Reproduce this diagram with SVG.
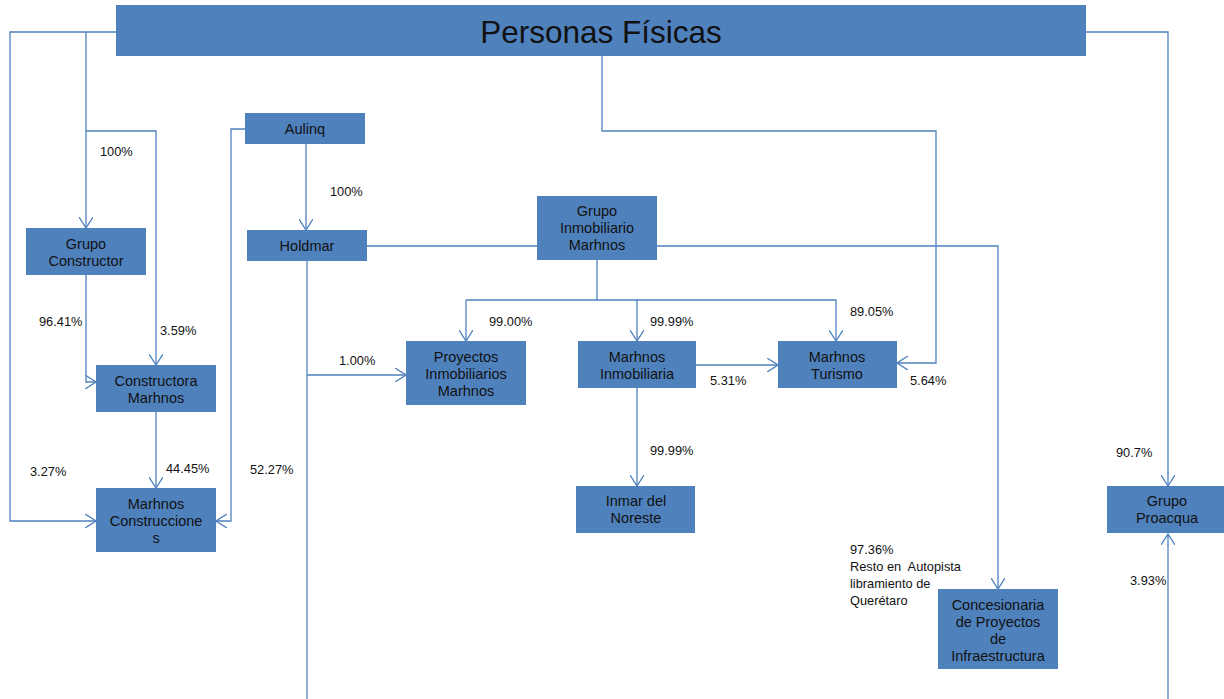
<svg xmlns="http://www.w3.org/2000/svg" width="1224" height="699" viewBox="0 0 1224 699">
<style>
.node{fill:#4F81BD;}
.nt{font-family:"Liberation Sans",Arial,sans-serif;font-size:14.5px;fill:#111;text-anchor:middle;}
.lbl{font-family:"Liberation Sans",Arial,sans-serif;font-size:12.8px;fill:#111;}
.c{fill:none;stroke:#4F81BD;stroke-width:1.3;}
.a{marker-end:url(#arr);}
</style>
<defs>
<marker id="arr" viewBox="0 0 12 14" refX="11" refY="7" markerWidth="12" markerHeight="14" markerUnits="userSpaceOnUse" orient="auto">
<path d="M0,0 L11,7 L0,14" fill="none" stroke="#4F81BD" stroke-width="1.3"/>
</marker>
</defs>
<rect width="1224" height="699" fill="#fff"/>
<g id="connectors">
<path class="c a" d="M116,32 H10 V521 H96"/>
<path class="c a" d="M86,32 V228"/>
<path class="c a" d="M86,131 H156 V365"/>
<path class="c a" d="M86,275 V382 H96"/>
<path class="c a" d="M156,412 V488"/>
<path class="c a" d="M245,129 H231 V521 H216"/>
<path class="c a" d="M306,144 V230"/>
<path class="c" d="M307,261 V699"/>
<path class="c a" d="M307,375 H406"/>
<path class="c a" d="M367,246 H998 V589"/>
<path class="c" d="M597,260 V300"/>
<path class="c a" d="M466,300 V341"/>
<path class="c a" d="M466,300 H637 V341"/>
<path class="c a" d="M637,300 H836 V341"/>
<path class="c a" d="M696,365 H778"/>
<path class="c a" d="M637,388 V486"/>
<path class="c a" d="M602,56 V131 H936 V363 H897"/>
<path class="c a" d="M1086,32 H1168 V486"/>
<path class="c a" d="M1168,699 V534"/>
</g>
<g id="personas">
<rect class="node" x="116" y="5" width="970" height="51"/>
<text x="601" y="43" font-family="Liberation Sans, Arial, sans-serif" font-size="31.5" fill="#111" text-anchor="middle">Personas Físicas</text>
</g>
<g id="aulinq">
<rect class="node" x="245" y="113" width="120" height="31"/>
<text class="nt" x="305" y="134">Aulinq</text>
</g>
<g id="holdmar">
<rect class="node" x="247" y="230" width="120" height="31"/>
<text class="nt" x="307" y="251">Holdmar</text>
</g>
<g id="grupo-inmobiliario">
<rect class="node" x="537" y="196" width="120" height="64"/>
<text class="nt" x="597" y="216">Grupo</text>
<text class="nt" x="597" y="233">Inmobiliario</text>
<text class="nt" x="597" y="250">Marhnos</text>
</g>
<g id="grupo-constructor">
<rect class="node" x="26" y="228" width="120" height="47"/>
<text class="nt" x="86" y="249">Grupo</text>
<text class="nt" x="86" y="266">Constructor</text>
</g>
<g id="constructora">
<rect class="node" x="96" y="365" width="120" height="47"/>
<text class="nt" x="156" y="386">Constructora</text>
<text class="nt" x="156" y="403">Marhnos</text>
</g>
<g id="construcciones">
<rect class="node" x="96" y="488" width="120" height="64"/>
<text class="nt" x="156" y="509">Marhnos</text>
<text class="nt" x="156" y="526">Construccione</text>
<text class="nt" x="156" y="543">s</text>
</g>
<g id="proyectos">
<rect class="node" x="406" y="341" width="120" height="64"/>
<text class="nt" x="466" y="362">Proyectos</text>
<text class="nt" x="466" y="379">Inmobiliarios</text>
<text class="nt" x="466" y="396">Marhnos</text>
</g>
<g id="marhnos-inmobiliaria">
<rect class="node" x="578" y="341" width="118" height="47"/>
<text class="nt" x="637" y="362">Marhnos</text>
<text class="nt" x="637" y="379">Inmobiliaria</text>
</g>
<g id="marhnos-turismo">
<rect class="node" x="778" y="341" width="119" height="47"/>
<text class="nt" x="837" y="362">Marhnos</text>
<text class="nt" x="837" y="379">Turismo</text>
</g>
<g id="inmar">
<rect class="node" x="576" y="486" width="119" height="47"/>
<text class="nt" x="636" y="506">Inmar del</text>
<text class="nt" x="636" y="523">Noreste</text>
</g>
<g id="proacqua">
<rect class="node" x="1107" y="486" width="118" height="47"/>
<text class="nt" x="1167" y="506">Grupo</text>
<text class="nt" x="1167" y="523">Proacqua</text>
</g>
<g id="concesionaria">
<rect class="node" x="938" y="589" width="120" height="80"/>
<text class="nt" x="998" y="610">Concesionaria</text>
<text class="nt" x="998" y="627">de Proyectos</text>
<text class="nt" x="998" y="644">de</text>
<text class="nt" x="998" y="661">Infraestructura</text>
</g>
<g id="labels">
<text class="lbl" x="100" y="156">100%</text>
<text class="lbl" x="330" y="196">100%</text>
<text class="lbl" x="39" y="326">96.41%</text>
<text class="lbl" x="160" y="335">3.59%</text>
<text class="lbl" x="339" y="365">1.00%</text>
<text class="lbl" x="30" y="476">3.27%</text>
<text class="lbl" x="166" y="473">44.45%</text>
<text class="lbl" x="250" y="474">52.27%</text>
<text class="lbl" x="489" y="326">99.00%</text>
<text class="lbl" x="650" y="326">99.99%</text>
<text class="lbl" x="850" y="316">89.05%</text>
<text class="lbl" x="710" y="385">5.31%</text>
<text class="lbl" x="910" y="385">5.64%</text>
<text class="lbl" x="650" y="455">99.99%</text>
<text class="lbl" x="1116" y="457">90.7%</text>
<text class="lbl" x="1130" y="585">3.93%</text>
<text class="lbl" x="850" y="554">97.36%</text>
<text class="lbl" x="850" y="571" xml:space="preserve">Resto en  Autopista</text>
<text class="lbl" x="850" y="588">libramiento de</text>
<text class="lbl" x="850" y="605">Querétaro</text>
</g>
</svg>
